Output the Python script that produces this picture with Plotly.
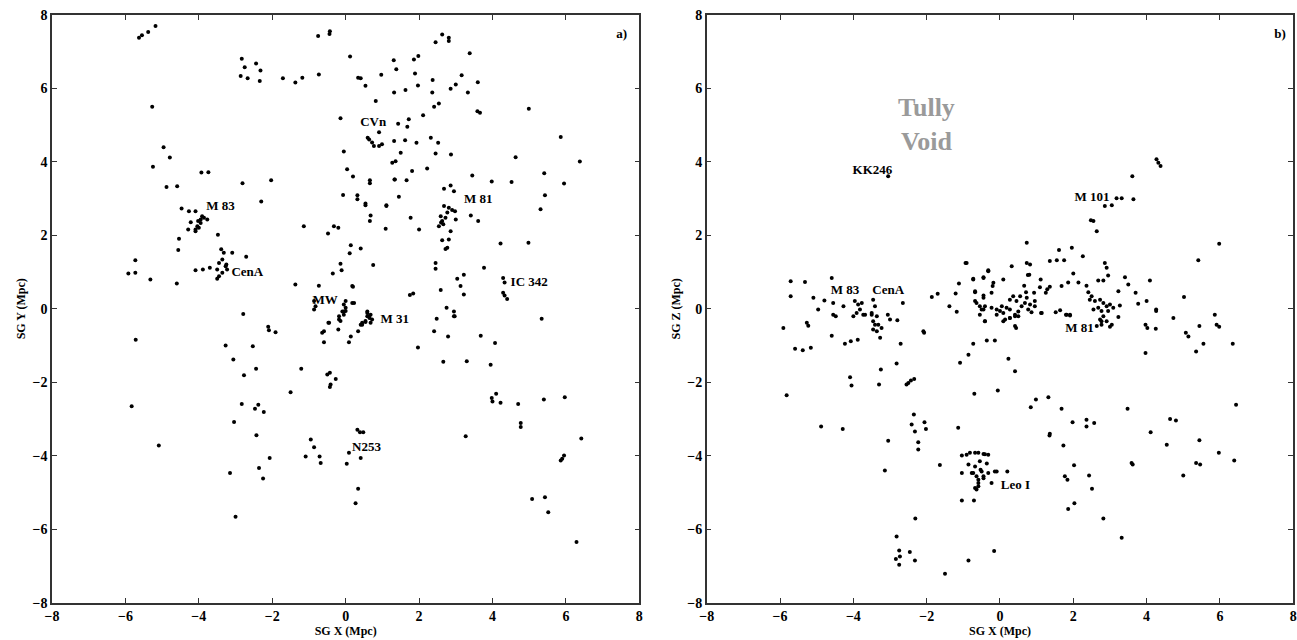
import plotly.graph_objects as go

# ---------------- Panel a) SG X vs SG Y ----------------
a_pts = [
    (-5.63,7.38),(-5.38,7.54),(-5.18,7.70),(-5.55,7.45),
    (-2.83,6.81),(-2.75,6.58),(-2.86,6.34),(-2.67,6.28),(-2.44,6.68),(-2.32,6.49),(-2.34,6.20),(-1.71,6.28),
    (-1.37,6.16),(-1.18,6.29),(-0.73,6.38),(-0.75,7.43),(-0.43,7.56),(-0.44,7.48),
    (0.12,6.87),(0.34,6.29),(0.41,6.28),(0.54,6.07),(0.82,5.66),(0.97,6.37),(1.31,6.77),(1.38,6.52),(1.32,5.89),(-0.14,5.19),
    (0.64,4.61),(0.72,4.53),(0.91,4.81),(0.91,4.43),(0.99,4.48),(0.77,4.43),(0.60,4.66),
    (1.32,4.57),(-0.05,4.28),(1.27,3.98),(0.04,3.80),(0.20,3.60),(0.66,3.50),(0.66,3.42),(1.33,3.52),(-0.07,3.10),
    (0.32,3.09),(0.32,2.98),(0.54,2.87),(0.54,2.82),(1.11,2.80),(0.68,2.54),(0.66,2.39),(1.09,2.18),(-0.32,2.25),
    (-0.20,2.21),(-0.48,2.05),(-1.14,2.25),(-2.30,2.92),(-2.03,3.50),(-2.81,3.42),(-3.93,3.71),(-3.74,3.72),
    (-5.27,5.50),(-4.96,4.40),(-4.79,4.12),(-5.25,3.87),(-4.88,3.32),(-4.59,3.34),
    (-4.47,2.73),(-4.27,2.66),(-4.09,2.66),(-4.22,2.36),(-4.29,2.16),(-4.09,2.11),(-4.04,2.25),(-3.95,2.43),
    (-3.91,2.52),(-4.00,2.21),(-3.86,2.48),(-3.77,2.43),(-3.95,2.34),(-4.09,2.16),(-4.02,2.39),
    (-3.48,2.02),(-4.54,1.91),(-4.56,1.60),(-5.73,1.32),(-5.92,0.96),(-5.73,0.98),(-5.32,0.80),(-4.60,0.69),
    (-4.09,1.05),(-3.89,1.07),(-3.70,1.12),
    (-3.39,1.62),(-3.32,1.53),(-3.36,1.34),(-3.45,1.25),(-3.27,1.16),(-3.50,1.07),(-3.36,0.98),(-3.23,1.07),
    (-3.45,0.89),(-3.50,0.82),(-3.09,1.53),(-2.71,1.42),(-3.25,1.21),
    (-1.37,0.66),(-0.73,0.63),(-0.35,0.96),(-0.14,1.23),(-0.11,1.05),(0.14,1.73),(0.11,1.51),(0.41,1.64),
    (0.75,1.19),(0.20,0.60),(0.18,0.62),
    (0.23,0.16),(0.00,0.21),(0.00,0.03),(-0.05,-0.07),(-0.86,-0.02),(-2.79,-0.14),
    (2.63,7.47),(2.81,7.38),(2.81,7.29),(2.45,7.26),(3.38,6.96),(1.86,6.79),(1.98,6.88),(1.89,6.41),(1.97,6.08),
    (1.63,5.96),(2.37,6.23),(2.36,5.89),(2.86,5.99),(3.00,6.11),(3.16,6.36),(3.33,5.89),(3.60,6.17),(3.59,5.38),
    (3.66,5.34),(4.99,5.45),(5.86,4.68),(6.38,4.01),(4.63,4.13),(2.41,5.50),(2.54,5.59),(2.11,5.27),(1.72,5.16),
    (1.68,4.96),(1.43,5.04),(1.62,4.59),(1.93,4.52),(2.32,4.66),(2.52,4.52),(2.45,4.23),(2.87,4.20),(1.50,4.25),
    (1.36,4.02),(2.22,3.82),(1.81,3.75),(1.34,3.52),(1.66,3.50),(3.45,3.63),(3.98,3.47),(4.52,3.45),(5.41,3.69),
    (5.95,3.41),(5.43,3.09),(5.31,2.71),(1.45,3.05),(1.11,2.82),(1.77,2.48),(2.00,2.16),
    (2.68,3.27),(2.86,3.36),(2.95,3.20),(2.68,2.80),(2.81,2.75),(2.90,2.69),(2.98,2.66),(2.59,2.52),(2.63,2.39),
    (2.54,2.25),(2.72,2.48),(2.77,2.62),(3.00,2.43),(2.86,2.11),(2.81,1.89),(2.77,1.66),(2.72,1.63),(2.63,1.87),
    (3.41,2.54),(3.61,2.39),(2.60,2.35),(2.66,2.30),
    (4.22,1.78),(4.98,1.80),(3.77,1.12),(3.22,0.93),(3.04,0.82),(3.13,0.62),(3.22,0.39),(2.45,1.25),(2.45,1.09),
    (2.59,0.51),(1.84,0.42),(1.75,0.38),
    (4.29,0.84),(4.33,0.72),(4.29,0.44),(4.33,0.36),(4.40,0.27),
    (2.75,0.03),(2.95,-0.07),(2.95,-0.20),(2.48,-0.27),(5.34,-0.27),
    (-0.86,0.21),(-0.82,0.07),(-0.45,-0.38),(-0.18,-0.20),(-0.14,-0.33),(-0.05,0.12),(0.00,-0.06),(0.18,0.16),
    (0.59,-0.07),(0.63,-0.20),(0.54,-0.33),(0.45,-0.38),(0.68,-0.16),(0.72,-0.29),
    (-0.09,-0.07),(-0.05,-0.16),(-0.18,-0.29),(-0.47,-0.38),(-0.59,-0.61),(-0.64,-0.65),(-0.59,-0.91),(-0.20,-0.56),
    (0.14,-0.75),(0.09,-0.91),(0.41,-0.43),(0.34,-0.61),(0.45,-0.43),(0.54,-0.36),(0.59,-0.11),(0.65,-0.25),
    (0.68,-0.38),(0.59,-0.20),
    (2.41,-0.61),(2.79,-0.75),(2.97,-0.20),(1.97,-1.05),(3.68,-0.73),(4.07,-0.93),(2.66,-1.44),(3.30,-1.43),
    (3.95,-1.52),(-1.21,-1.63),(-0.50,-1.79),(-0.43,-1.74),(-0.27,-1.91),(-0.43,-2.13),(-0.41,-2.06),(3.98,-2.43),
    (4.00,-2.52),(4.10,-2.31),(4.22,-2.56),(4.70,-2.59),(5.40,-2.47),(5.97,-2.41),(4.77,-3.11),(4.77,-3.22),
    (3.27,-3.47),(6.42,-3.53),(0.32,-3.29),(0.39,-3.36),(0.48,-3.36),(0.09,-3.92),(0.41,-4.06),(0.03,-4.22),
    (-0.95,-3.56),(-0.86,-3.77),(-1.09,-4.02),(-0.71,-4.02),(-0.68,-4.20),(5.95,-3.99),(5.90,-4.08),(5.86,-4.13),
    (0.34,-4.90),(0.27,-5.29),(5.08,-5.18),(5.43,-5.13),(5.52,-5.54),(6.29,-6.35),
    (-5.72,-0.84),(-5.83,-2.65),(-5.09,-3.72),(-2.11,-0.49),(-2.09,-0.58),(-1.91,-0.64),(-3.27,-1.00),
    (-2.53,-1.02),(-3.06,-1.38),(-2.44,-1.63),(-2.77,-1.81),(-1.50,-2.27),(-2.83,-2.59),(-2.47,-2.72),
    (-2.38,-2.61),(-2.23,-2.81),(-3.04,-3.08),(-2.43,-3.44),(-2.07,-4.06),(-3.15,-4.47),(-2.36,-4.33),
    (-2.25,-4.62),(-3.00,-5.66),
]
a_sgx = [p[0] for p in a_pts]
a_sgy = [p[1] for p in a_pts]

a_label_text = ["CVn", "M 83", "CenA", "MW", "M 31", "M 81", "IC 342", "N253", "a)"]
a_label_x = [0.75, -3.41, -2.68, -0.56, 1.34, 3.61, 5.00, 0.57, 7.52]
a_label_y = [5.07, 2.78, 0.98, 0.21, -0.29, 2.98, 0.71, -3.79, 7.47]

# ---------------- Panel b) SG X vs SG Z ----------------
b_pts = [
    (-3.05,3.61),
    (-5.71,0.75),(-5.71,0.34),(-5.32,0.73),(-4.59,0.84),(-5.09,0.30),(-4.79,0.23),(-4.96,-0.02),
    (-4.55,0.16),(-4.55,-0.16),(-4.48,-0.20),(-4.27,0.07),
    (-3.96,0.21),(-3.87,0.12),(-3.77,0.16),(-3.91,-0.11),(-4.00,-0.20),(-3.73,-0.16),(-3.82,-0.02),
    (-3.46,0.25),(-3.41,0.07),(-3.50,-0.11),(-3.36,-0.20),(-3.46,-0.34),(-3.32,-0.43),(-3.23,-0.52),
    (-3.00,-0.29),(-2.80,-0.31),(-3.06,-0.16),(-2.65,0.16),(-1.86,0.32),(-1.70,0.41),(-1.38,0.07),(-1.18,-0.08),
    (-1.21,0.42),(-1.12,0.69),(-0.94,1.25),(-0.73,0.80),(-0.45,0.84),(-0.32,1.02),(-0.68,0.45),(-0.45,0.36),
    (-0.64,0.16),(-0.50,-0.02),(-0.41,0.07),(-0.55,-0.16),(-0.41,-0.34),
    (-5.91,-0.52),(-5.27,-0.38),(-5.23,-0.46),(-5.59,-1.09),(-5.38,-1.13),(-5.16,-1.06),(-4.59,-0.73),
    (-4.23,-0.95),(-4.07,-0.88),(-3.88,-0.84),(-3.68,-0.16),
    (-3.50,-0.16),(-3.46,-0.56),(-3.36,-0.61),(-3.27,-0.79),(-3.41,-0.43),
    (-2.71,-0.95),(-2.09,-0.61),(-2.07,-0.65),(-2.82,-1.49),(-3.25,-1.65),(-4.09,-1.86),(-4.05,-2.09),
    (-3.30,-2.06),(-2.50,-2.02),(-2.43,-1.95),(-2.34,-1.91),(-2.55,-2.06),(-5.82,-2.35),(-4.88,-3.20),
    (-4.29,-3.27),(-2.35,-2.88),(-2.41,-3.15),(-2.32,-3.34),(-2.06,-3.09),(-2.02,-3.27),(-2.23,-3.63),
    (-2.23,-3.83),(-3.05,-3.59),(-3.14,-4.40),(-1.64,-4.25),(-2.31,-5.71),(-2.82,-6.20),
    (-2.75,-6.58),(-2.73,-6.74),(-2.84,-6.81),(-2.46,-6.62),(-2.32,-6.85),(-2.75,-6.97),
    (-0.86,-6.85),(-1.50,-7.21),(-1.09,-1.47),(-0.86,-1.25),(-0.73,-0.95),(-0.70,-2.31),(-1.14,-3.24),
    (-1.04,-3.99),(-0.86,-4.24),(-0.77,-4.47),(-0.68,-4.29),(-0.64,-4.56),(-0.59,-4.74),(-0.55,-4.15),
    (-0.53,-4.38),(-0.45,-4.56),(-0.41,-3.96),(-0.36,-4.21),(-0.32,-4.47),(-0.68,-4.88),(-0.64,-4.92),
    (-1.04,-4.47),(-1.04,-5.22),(-0.71,-5.22),(-0.82,-3.92),(-0.59,-3.92),
    (-0.91,-3.97),(-0.73,-4.47),(-0.59,-4.65),(-0.50,-4.43),(-0.68,-3.92),(-0.45,-3.95),(-0.32,-3.97),
    (-0.23,-4.74),(-0.14,-4.43),(-0.09,-4.43),(0.20,-4.43),(-0.45,-4.61),(-0.59,-4.83),
    (-0.36,-0.86),(-0.14,-0.86),(0.23,-1.36),(0.41,-1.70),(-0.06,-2.22),(0.84,-2.68),(0.98,-2.47),
    (1.32,-2.41),(1.68,-2.72),(1.98,-3.09),(2.36,-3.02),(2.36,-3.20),(2.57,-3.11),(1.36,-3.40),(1.35,-3.45),
    (1.73,-3.72),(2.02,-4.26),(1.77,-4.56),(1.84,-4.65),(2.43,-4.54),(2.51,-4.90),(2.03,-5.29),(1.86,-5.45),
    (2.82,-5.71),(3.32,-6.23),(-0.16,-6.59),
    (3.48,-2.72),(4.11,-3.36),(4.64,-3.00),(4.80,-3.04),(4.55,-3.70),(3.59,-4.20),(3.62,-4.24),(5.00,-4.54),
    (5.44,-3.58),(5.35,-4.20),(5.46,-4.24),(5.97,-3.92),(6.39,-4.13),(6.44,-2.61),
    (3.97,-0.43),(4.02,-0.52),(4.25,-0.54),(3.97,-1.20),(4.73,-0.25),(5.07,-0.65),(5.14,-0.75),(5.44,-0.47),
    (5.35,-1.16),(5.55,-0.95),(5.86,-0.16),(5.91,-0.43),(5.98,-0.49),(6.35,-0.95),(3.23,-0.22),(4.26,-0.06),
    (2.77,-0.34),(3.00,-0.49),(1.82,-0.16),(1.91,-0.18),(1.52,-0.09),(1.12,-0.11),(0.44,-0.52),
    (0.09,-0.34),(0.27,-0.25),(0.50,-0.20),
    (4.32,3.98),(4.27,4.07),(4.38,3.89),(3.61,3.61),(3.18,3.01),(3.32,3.01),(3.64,2.98),(2.86,2.80),(3.05,2.82),
    (2.48,2.41),(2.55,2.39),(2.64,2.11),(0.73,1.80),(5.98,1.77),(5.41,1.32),(1.61,1.60),(1.96,1.66),
    (1.36,1.30),(1.55,1.32),(1.75,1.32),(2.26,1.43),(2.86,1.25),(2.91,1.12),(2.95,0.91),(2.68,0.77),(2.82,0.77),
    (3.41,0.86),(3.50,0.66),(4.09,0.77),(3.23,0.48),(3.70,0.44),(3.77,0.14),(4.00,0.21),(4.26,-0.02),(5.02,0.32),
    (2.50,0.34),(2.59,0.21),(2.73,0.25),(2.82,0.16),(2.91,0.07),(3.00,0.12),(2.68,0.03),(2.55,-0.02),
    (2.77,-0.06),(2.95,-0.06),(3.09,0.03),(3.27,0.09),(2.82,-0.20),(2.73,-0.29),(2.91,-0.34),(2.77,-0.43),
    (2.64,-0.47),(3.05,-0.43),(2.45,0.25),
    (2.36,0.63),(2.41,0.45),(2.00,0.96),(1.86,0.72),(2.14,0.72),(1.68,0.62),(1.64,-0.04),(1.80,-0.16),
    (1.91,-0.16),(1.29,0.53),(1.25,0.44),(1.36,0.60),(1.11,0.80),(1.09,0.59),(0.93,0.44),(0.95,0.21),
    (0.66,0.63),(0.71,0.45),(0.76,0.92),(0.80,0.93),(0.32,1.16),(0.73,1.25),(0.82,1.21),(0.09,0.80),
    (-0.18,0.71),(-0.20,0.62),(-0.32,1.05),(-0.45,0.86),(-0.73,0.82),(-0.91,1.25),
    (-0.68,0.48),(-0.68,0.21),(-0.55,0.07),(-0.45,-0.02),(-0.45,0.30),(-0.23,0.44),
    (-0.09,-0.02),(0.05,0.07),(0.09,-0.11),(0.18,0.03),(0.27,0.25),(0.36,0.34),(0.45,0.21),(0.55,0.34),
    (0.59,0.07),(0.68,0.16),(0.73,0.30),(0.77,-0.02),(0.82,0.12),(0.27,-0.02),(0.41,-0.16),(0.50,-0.07),
    (0.14,-0.29),(0.27,-0.25),(0.41,-0.20),(0.00,-0.06),(0.95,0.07),(1.14,-0.11),(0.86,-0.09),(-0.09,-0.16),
    (-0.23,0.03),(-0.41,-0.34),(0.41,-0.47),
]
b_sgx = [p[0] for p in b_pts]
b_sgz = [p[1] for p in b_pts]

b_label_text = ["KK246", "M 101", "M 83", "CenA", "M 81", "Leo I", "b)"]
b_label_x = [-3.48, 2.51, -4.23, -3.05, 2.17, 0.42, 7.64]
b_label_y = [3.75, 3.02, 0.48, 0.48, -0.54, -4.81, 7.47]

void_text = "Tully<br>Void"
void_x, void_y = -2.0, 5.02

tick_vals = [-8, -6, -4, -2, 0, 2, 4, 6, 8]

FONT = "Liberation Serif"
fig = go.Figure()
marker = dict(color="black", size=4, symbol="circle", line=dict(width=0))
fig.add_trace(go.Scatter(x=a_sgx, y=a_sgy, mode="markers", marker=marker, xaxis="x", yaxis="y",
                         showlegend=False, hoverinfo="skip"))
fig.add_trace(go.Scatter(x=b_sgx, y=b_sgz, mode="markers", marker=marker, xaxis="x2", yaxis="y2",
                         showlegend=False, hoverinfo="skip"))

lab_font = dict(family=FONT, size=13, color="black", weight="bold")
fig.add_trace(go.Scatter(x=a_label_x, y=a_label_y, text=a_label_text, mode="text", textfont=lab_font,
                         textposition="middle center", xaxis="x", yaxis="y", showlegend=False, hoverinfo="skip"))
fig.add_trace(go.Scatter(x=b_label_x, y=b_label_y, text=b_label_text, mode="text", textfont=lab_font,
                         textposition="middle center", xaxis="x2", yaxis="y2", showlegend=False, hoverinfo="skip"))
fig.add_annotation(x=void_x, y=void_y, xref="x2", yref="y2", text=void_text, showarrow=False,
                   font=dict(family=FONT, size=26, color="#9a9a9a", weight="bold"))

axis_common = dict(range=[-8, 8], tickvals=tick_vals, ticks="inside", ticklen=5, tickwidth=1,
                   tickcolor="#333", showline=True, linecolor="#333", linewidth=1.5, mirror="ticks",
                   showgrid=False, zeroline=False, automargin=False,
                   tickfont=dict(family=FONT, size=14, color="black", weight="bold"))
title_font = dict(family=FONT, size=12, color="black", weight="bold")

fig.update_layout(
    width=1297, height=640,
    margin=dict(l=0, r=0, t=0, b=0),
    paper_bgcolor="white", plot_bgcolor="white",
    xaxis=dict(domain=[0.0401, 0.4929], anchor="y",
               title=dict(text="SG X (Mpc)", font=title_font, standoff=0), **axis_common),
    yaxis=dict(domain=[0.0583, 0.9766], anchor="x",
               title=dict(text="SG Y (Mpc)", font=title_font, standoff=4), **axis_common),
    xaxis2=dict(domain=[0.5449, 0.9971], anchor="y2",
                title=dict(text="SG X (Mpc)", font=title_font, standoff=0), **axis_common),
    yaxis2=dict(domain=[0.0583, 0.9766], anchor="x2",
                title=dict(text="SG Z (Mpc)", font=title_font, standoff=4), **axis_common),
)

fig.write_html("out.html")
